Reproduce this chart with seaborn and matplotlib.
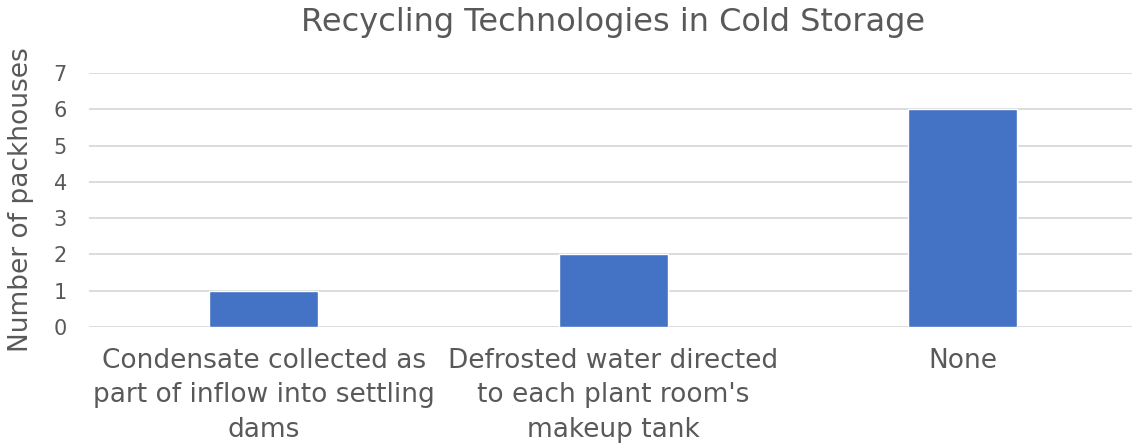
import matplotlib
matplotlib.use("Agg")
import matplotlib.pyplot as plt
import seaborn as sns
import pandas as pd

categories = [
    "Condensate collected as\npart of inflow into settling\ndams",
    "Defrosted water directed\nto each plant room's\nmakeup tank",
    "None",
]
counts = [1, 2, 6]
y_ticks = [0, 1, 2, 3, 4, 5, 6, 7]

sns.set_theme(style="white")
plt.rcParams["font.family"] = ["DejaVu Sans"]

text_color = "#595959"
grid_color = "#D9D9D9"
bar_color = "#4472C4"

df = pd.DataFrame({"category": categories, "count": counts})

fig = plt.figure(figsize=(11.32, 4.46), dpi=100)
ax = fig.add_axes([0.0786, 0.267, 0.926, 0.569])

sns.barplot(data=df, x="category", y="count", color=bar_color,
            width=0.312, saturation=1, ax=ax, zorder=3)

ax.set_ylim(0, 7)
ax.set_yticks(y_ticks)
ax.set_xlim(-0.5, 2.5)
ax.yaxis.grid(True, color=grid_color, linewidth=1.3, zorder=0)
ax.set_axisbelow(True)
for s in ax.spines.values():
    s.set_visible(False)

ax.tick_params(axis="y", length=0, pad=16, labelsize=15, labelcolor=text_color)
ax.tick_params(axis="x", length=0, pad=15, labelsize=19, labelcolor=text_color)
for lbl in ax.get_xticklabels():
    lbl.set_linespacing(1.42)

ax.set_xlabel("")
ax.set_ylabel("Number of packhouses", fontsize=19, color=text_color, labelpad=14)
ax.set_title("Recycling Technologies in Cold Storage", fontsize=23,
             color=text_color, pad=30)

fig.savefig("out.png", dpi=100)
